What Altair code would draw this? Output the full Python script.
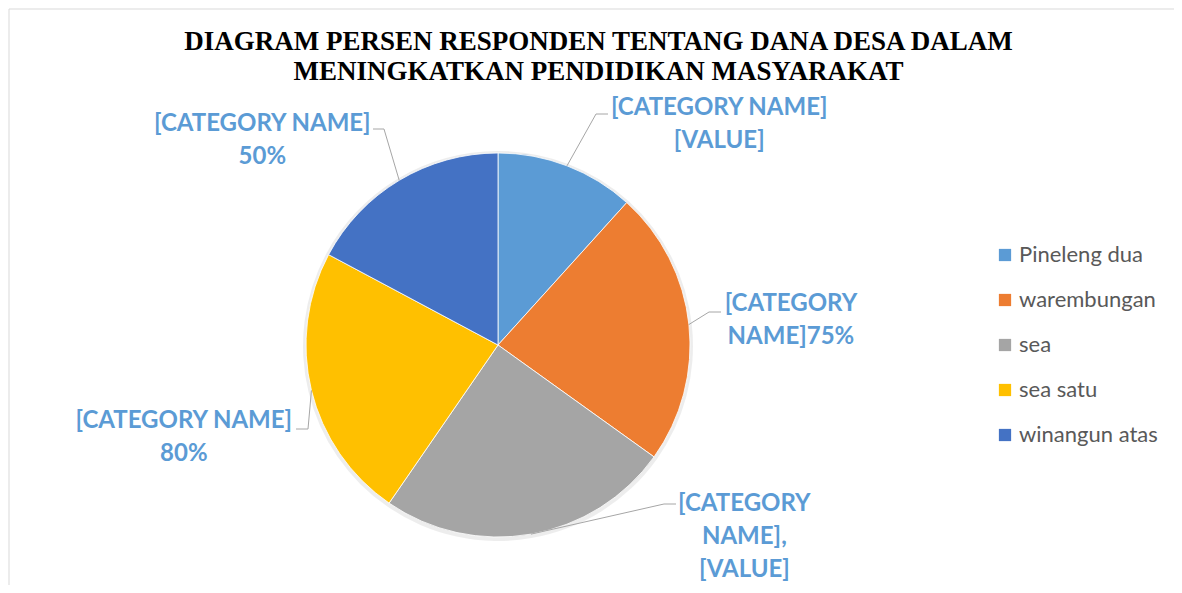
import altair as alt
import pandas as pd

# ---- data ----
categories = ["Pineleng dua", "warembungan", "sea", "sea satu", "winangun atas"]
values = [11.7, 23.2, 24.7, 23.2, 17.2]
label_texts = [
    "[CATEGORY NAME]\n[VALUE]",
    "[CATEGORY\nNAME]75%",
    "[CATEGORY\nNAME],\n[VALUE]",
    "[CATEGORY NAME]\n80%",
    "[CATEGORY NAME]\n50%",
]
title_text = "DIAGRAM PERSEN RESPONDEN TENTANG DANA DESA DALAM\nMENINGKATKAN PENDIDIKAN MASYARAKAT"

# ---- layout / style (not data) ----
colors = ["#5B9BD5", "#ED7D31", "#A5A5A5", "#FFC000", "#4472C4"]
W, H = 1166, 577
CX, CY, R = 489, 333, 192
LH = 33
lab_dtheta = [24, 1.3, -42.2, -2.7, -18.1]   # label angle offset from slice middle (deg)
lab_r = [312.5, 294, 312.2, 327.5, 312]        # label distance from centre
elbow_x = [587, 700, 655, 299, 375]
elbow_y = [102, 300, 492, 417, 117]
end_x = [599, 712, 667, 287, 364]

df = pd.DataFrame({
    "cat": categories,
    "value": values,
    "label": label_texts,
    "ord": list(range(len(categories))),
    "dth": lab_dtheta,
    "lr": lab_r,
    "elx": elbow_x,
    "ely": elbow_y,
    "enx": end_x,
})

base = alt.Chart(df)

shadow = base.mark_arc(outerRadius=R + 3, color="#000000", opacity=0.07).encode(
    theta=alt.Theta("value:Q", stack=True),
    order=alt.Order("ord:Q"),
    x=alt.value(CX),
    y=alt.value(CY + 1),
)

pie = base.mark_arc(outerRadius=R, stroke="white", strokeWidth=0.8).encode(
    theta=alt.Theta("value:Q", stack=True),
    order=alt.Order("ord:Q"),
    color=alt.Color(
        "cat:N",
        scale=alt.Scale(domain=categories, range=colors),
        legend=alt.Legend(
            title=None,
            orient="none",
            legendX=985,
            legendY=232,
            symbolType="square",
            symbolSize=150,
            symbolStrokeWidth=0,
            labelFont="Lato",
            labelFontSize=22,
            labelColor="#595959",
            labelOffset=3,
            rowPadding=23,
            padding=0,
        ),
    ),
    x=alt.value(CX),
    y=alt.value(CY),
)

geo = base.transform_joinaggregate(
    total="sum(value)"
).transform_window(
    cum="sum(value)", sort=[alt.SortField("ord")], frame=[None, 0]
).transform_calculate(
    mid="2*PI*(datum.cum - datum.value/2)/datum.total",
    nl="length(split(datum.label, '\\n'))",
).transform_calculate(
    ex=f"{CX} + {R}*sin(datum.mid)",
    ey=f"{CY} - {R}*cos(datum.mid)",
    la="datum.mid + datum.dth*PI/180",
).transform_calculate(
    lx=f"{CX} + datum.lr*sin(datum.la)",
    ly=f"{CY} - datum.lr*cos(datum.la) - (datum.nl - 1)*{LH}/2",
)

leader1 = geo.mark_rule(color="#A6A6A6", strokeWidth=1).encode(
    x=alt.X("ex:Q", scale=None),
    y=alt.Y("ey:Q", scale=None),
    x2="elx:Q",
    y2="ely:Q",
)
leader2 = geo.mark_rule(color="#A6A6A6", strokeWidth=1).encode(
    x=alt.X("elx:Q", scale=None),
    y=alt.Y("ely:Q", scale=None),
    x2="enx:Q",
    y2="ely:Q",
)

labels = geo.mark_text(
    font="Lato", fontSize=24, fontWeight="bold", color="#5B9BD5",
    lineBreak="\n", lineHeight=LH, align="center", baseline="middle",
).encode(
    x=alt.X("lx:Q", scale=None),
    y=alt.Y("ly:Q", scale=None),
    text="label:N",
)

title = alt.Chart(pd.DataFrame({"t": [title_text]})).mark_text(
    font="Liberation Serif", fontSize=27, fontWeight="bold", color="black",
    lineBreak="\n", lineHeight=30, align="center", baseline="middle",
).encode(x=alt.value(589.5), y=alt.value(30), text="t:N")

border_left = alt.Chart(pd.DataFrame({"a": [0]})).mark_rule(color="#D9D9D9").encode(
    x=alt.value(0), y=alt.value(-3), y2=alt.value(H)
)
border_top = alt.Chart(pd.DataFrame({"a": [0]})).mark_rule(color="#D9D9D9").encode(
    x=alt.value(0), x2=alt.value(W), y=alt.value(-3)
)

chart = alt.layer(
    border_left, border_top, shadow, pie, leader1, leader2, labels, title
).properties(
    width=W, height=H, padding=0,
    autosize=alt.AutoSizeParams(type="fit", contains="padding"),
).configure_view(stroke=None)

chart.save("out.html", embed_options={"renderer": "svg", "actions": False})
